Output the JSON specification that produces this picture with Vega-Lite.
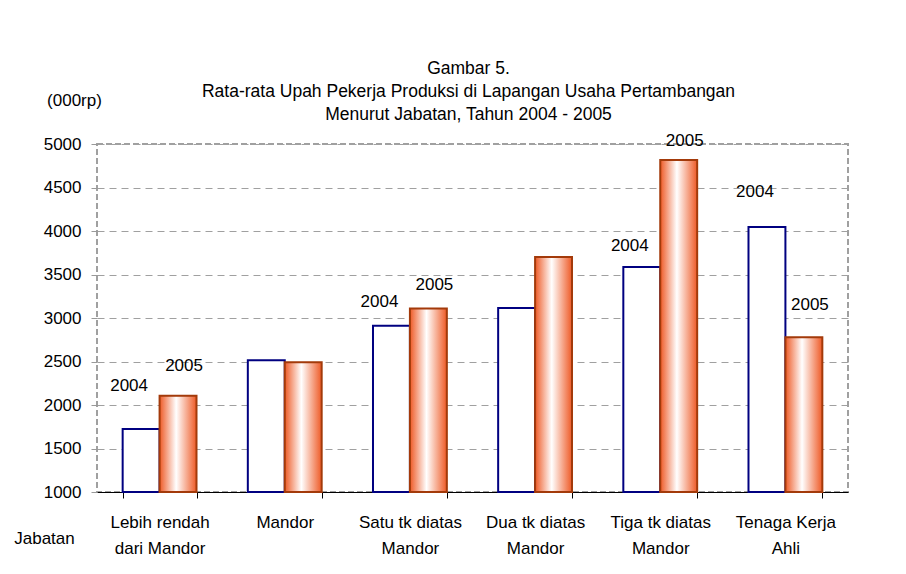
{
  "$schema": "https://vega.github.io/schema/vega-lite/v6.json",
  "width": 751,
  "height": 348,
  "autosize": {"type": "none"},
  "padding": {"left": 97, "top": 144, "right": 58, "bottom": 82},
  "background": "white",
  "config": {
    "font": "Liberation Sans",
    "view": {"stroke": "#a0a0a0", "strokeWidth": 2, "strokeDash": [6, 3]}
  },
  "title": {
    "text": ["Gambar 5.", "Rata-rata Upah Pekerja Produksi  di Lapangan Usaha Pertambangan", "Menurut Jabatan, Tahun 2004 -  2005"],
    "fontSize": 17.5,
    "fontWeight": "normal",
    "lineHeight": 23,
    "anchor": "middle",
    "frame": "group",
    "offset": 22,
    "dy": 54,
    "dx": -4,
    "color": "black"
  },
  "datasets": {
    "bars": [
      {"cat": "Lebih rendah|dari Mandor", "year": "2004", "value": 1725},
      {"cat": "Lebih rendah|dari Mandor", "year": "2005", "value": 2105},
      {"cat": "Mandor", "year": "2004", "value": 2515},
      {"cat": "Mandor", "year": "2005", "value": 2490},
      {"cat": "Satu tk diatas|Mandor", "year": "2004", "value": 2910},
      {"cat": "Satu tk diatas|Mandor", "year": "2005", "value": 3110},
      {"cat": "Dua tk diatas|Mandor", "year": "2004", "value": 3115},
      {"cat": "Dua tk diatas|Mandor", "year": "2005", "value": 3700},
      {"cat": "Tiga tk diatas|Mandor", "year": "2004", "value": 3585},
      {"cat": "Tiga tk diatas|Mandor", "year": "2005", "value": 4815},
      {"cat": "Tenaga Kerja|Ahli", "year": "2004", "value": 4045},
      {"cat": "Tenaga Kerja|Ahli", "year": "2005", "value": 2780}
    ],
    "labels": [
      {"cat": "Lebih rendah|dari Mandor", "year": "2004", "labelY": 2224},
      {"cat": "Lebih rendah|dari Mandor", "year": "2005", "labelY": 2454},
      {"cat": "Satu tk diatas|Mandor", "year": "2004", "labelY": 3184},
      {"cat": "Satu tk diatas|Mandor", "year": "2005", "labelY": 3385},
      {"cat": "Tiga tk diatas|Mandor", "year": "2004", "labelY": 3833},
      {"cat": "Tiga tk diatas|Mandor", "year": "2005", "labelY": 5034},
      {"cat": "Tenaga Kerja|Ahli", "year": "2004", "labelY": 4448},
      {"cat": "Tenaga Kerja|Ahli", "year": "2005", "labelY": 3155}
    ]
  },
  "encoding": {
    "x": {
      "field": "cat",
      "type": "nominal",
      "sort": null,
      "scale": {"paddingInner": 0.41, "paddingOuter": 0.205},
      "axis": {
        "title": "Jabatan",
        "labelExpr": "split(datum.label, '|')",
        "labelAngle": 0,
        "labelFontSize": 17,
        "labelColor": "black",
        "labelLineHeight": 26,
        "labelPadding": 16,
        "labelBaseline": "top",
        "tickBand": "extent",
        "tickColor": "black",
        "tickSize": 6,
        "domainColor": "black",
        "domainWidth": 1,
        "grid": false,
        "titleFontSize": 17,
        "titleFontWeight": "normal",
        "titleColor": "black",
        "titleX": -53,
        "titleY": 46,
        "titleAlign": "center",
        "titleBaseline": "middle"
      }
    },
    "xOffset": {
      "field": "year",
      "type": "nominal",
      "scale": {"domain": ["2004", "2005"], "paddingInner": 0, "paddingOuter": 0}
    }
  },
  "layer": [
    {
      "data": {"name": "bars"},
      "transform": [{"filter": "datum.year == '2004'"}],
      "mark": {"type": "bar", "fill": "white", "stroke": "#000080", "strokeWidth": 2},
      "encoding": {
        "y": {
          "field": "value",
          "type": "quantitative",
          "scale": {"domain": [1000, 5000], "nice": false, "zero": false},
          "axis": {
            "title": "(000rp)",
            "titleAngle": 0,
            "titleX": -23,
            "titleY": -44,
            "titleAlign": "center",
            "titleBaseline": "middle",
            "titleFontSize": 17,
            "titleFontWeight": "normal",
            "titleColor": "black",
            "values": [1000, 1500, 2000, 2500, 3000, 3500, 4000, 4500, 5000],
            "format": "d",
            "labelFontSize": 17,
            "labelColor": "black",
            "tickSize": 6,
            "tickColor": "#999999",
            "labelPadding": 10,
            "domain": false,
            "grid": true,
            "gridColor": "#a0a0a0",
            "gridDash": [7, 5],
            "gridWidth": 1
          }
        },
        "y2": {"datum": 1000}
      }
    },
    {
      "data": {"name": "bars"},
      "transform": [{"filter": "datum.year == '2005'"}],
      "mark": {
        "type": "bar",
        "stroke": "#a33a0a",
        "strokeWidth": 2,
        "fill": {
          "gradient": "linear",
          "x1": 0, "y1": 0, "x2": 1, "y2": 0,
          "stops": [
            {"offset": 0, "color": "#ee5a26"},
            {"offset": 0.45, "color": "#ffffff"},
            {"offset": 1, "color": "#ee5a26"}
          ]
        }
      },
      "encoding": {
        "y": {"field": "value", "type": "quantitative"},
        "y2": {"datum": 1000}
      }
    },
    {
      "data": {"name": "labels"},
      "transform": [{"filter": "datum.year == '2004'"}],
      "mark": {"type": "text", "fontSize": 17, "baseline": "middle", "align": "center", "dx": -12, "color": "black"},
      "encoding": {
        "y": {"field": "labelY", "type": "quantitative"},
        "text": {"field": "year"}
      }
    },
    {
      "data": {"name": "labels"},
      "transform": [{"filter": "datum.year == '2005'"}],
      "mark": {"type": "text", "fontSize": 17, "baseline": "middle", "align": "center", "dx": 6, "color": "black"},
      "encoding": {
        "y": {"field": "labelY", "type": "quantitative"},
        "text": {"field": "year"}
      }
    }
  ]
}
